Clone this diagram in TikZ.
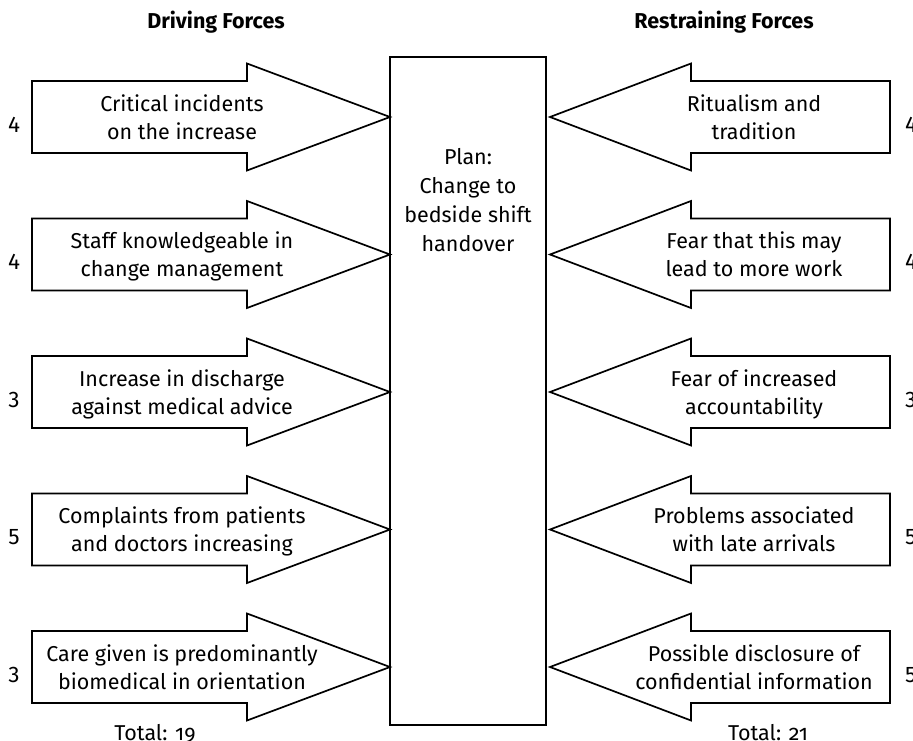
\documentclass[tikz,border=0pt]{standalone}
\usepackage{fontspec}
\setmainfont{Fira Sans}
\begin{document}
\begin{tikzpicture}[x=1pt,y=-1pt,
  outline/.style={draw=black,line width=1.7pt,line join=miter,fill=white},
  lbl/.style={font=\fontsize{21.5}{28}\selectfont,align=center,inner sep=0pt,
    execute at begin node=\strut, execute at end node=\strut},
  num/.style={font=\fontsize{22.5}{26}\selectfont,inner sep=0pt,anchor=base},
  ttl/.style={font=\fontsize{21.5}{24}\selectfont\bfseries,inner sep=0pt,anchor=base}]
\useasboundingbox (0,0) rectangle (913,741);
\node[ttl] (tdrive) at (216,28.5) {Driving Forces};
\node[ttl] (trestr) at (724,28.5) {Restraining Forces};
% plan box
\draw[outline] (390,57) rectangle (546,725);
\coordinate (planW) at (390,391);
\coordinate (planE) at (550,391);
\node[lbl,font=\fontsize{21.5}{29}\selectfont] (plan) at (468,204) {Plan:\\Change to\\bedside shift\\handover};
% driving forces
\foreach \y/\t/\n [count=\i] in {
  117/{Critical incidents\\on the increase}/4,
  254.5/{Staff knowledgeable in\\change management}/4,
  392/{Increase in discharge\\against medical advice}/3,
  529.5/{Complaints from patients\\and doctors increasing}/5,
  667/{Care given is predominantly\\biomedical in orientation}/3}{
  \coordinate (dtip\i) at (planW |- 0,\y);
  \draw[outline] (32,\y-36) -- (247,\y-36) -- (247,\y-53.5) -- (dtip\i)
     -- (247,\y+53.5) -- (247,\y+36) -- (32,\y+36) -- cycle;
  \node[lbl] (dl\i) at (182,\y+4) {\t};
  \node[num] (dn\i) at (14,\y+15) {\n};
}
% restraining forces
\foreach \y/\t/\n [count=\i] in {
  117/{Ritualism and\\tradition}/4,
  254.5/{Fear that this may\\lead to more work}/4,
  392/{Fear of increased\\accountability}/3,
  529.5/{Problems associated\\with late arrivals}/5,
  667/{Possible disclosure of\\confidential information}/5}{
  \coordinate (rtip\i) at (planE |- 0,\y);
  \draw[outline] (890,\y-36) -- (691,\y-36) -- (691,\y-53.5) -- (rtip\i)
     -- (691,\y+53.5) -- (691,\y+36) -- (890,\y+36) -- cycle;
  \node[lbl] (rl\i) at (754,\y+4) {\t};
  \node[num,anchor=base west] (rn\i) at (905,\y+15) {\n};
}
\node[num,font=\fontsize{21.5}{28}\selectfont] (dtot) at (155,740) {Total: {\addfontfeatures{Numbers=OldStyle}19}};
\node[num,font=\fontsize{21.5}{28}\selectfont] (rtot) at (768,740) {Total: {\addfontfeatures{Numbers=OldStyle}21}};
\end{tikzpicture}
\end{document}
